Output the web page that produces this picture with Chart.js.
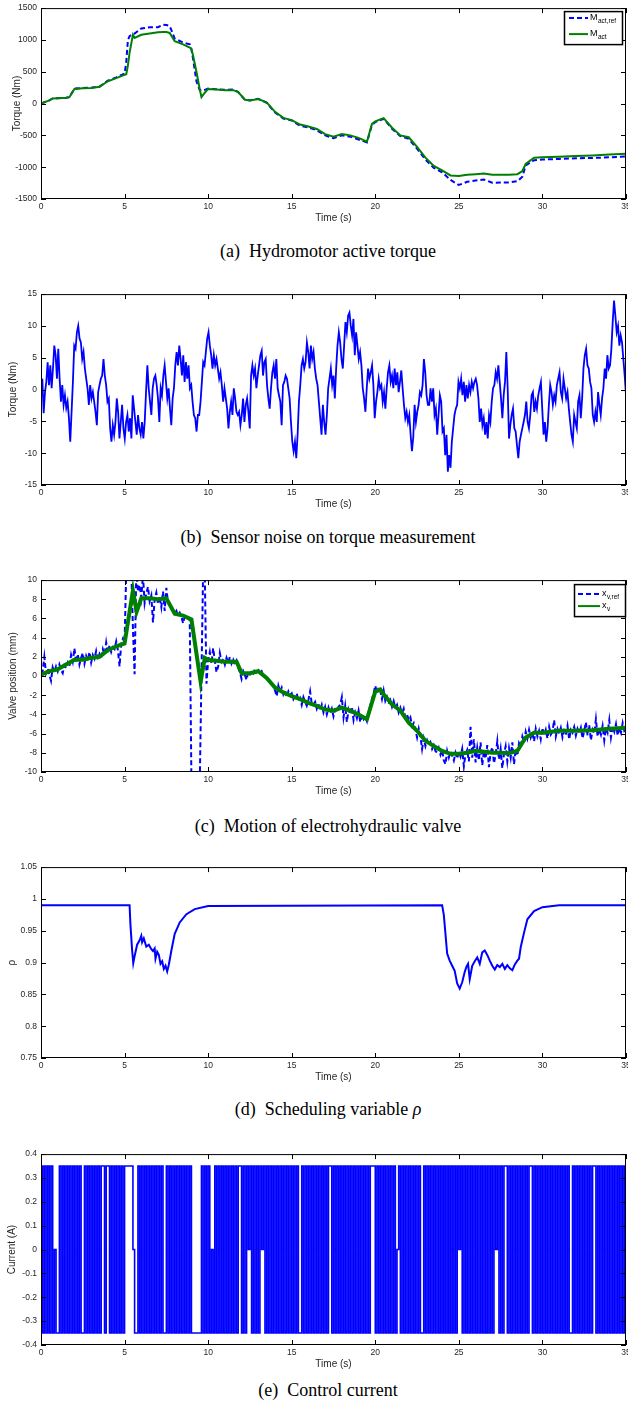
<!DOCTYPE html>
<html>
<head>
<meta charset="utf-8">
<script src="https://cdn.jsdelivr.net/npm/chart.js@4.4.1/dist/chart.umd.min.js"></script>
<style>
  html, body { margin: 0; padding: 0; background: #fff; }
  body { width: 628px; height: 1409px; position: relative; overflow: hidden; }
  canvas.panel { position: absolute; left: 0; }
  .caption {
    position: absolute; left: 0; width: 656px; text-align: center;
    font-family: "Liberation Serif", "Times New Roman", serif;
    font-size: 18px; line-height: 20px; color: #000; white-space: pre;
  }
</style>
</head>
<body>
<canvas class="panel" id="chartA" width="660" height="225" style="top:-1px"></canvas>
<div class="caption" style="top:241px">(a)  Hydromotor active torque</div>
<canvas class="panel" id="chartB" width="660" height="225" style="top:285px"></canvas>
<div class="caption" style="top:527px">(b)  Sensor noise on torque measurement</div>
<canvas class="panel" id="chartC" width="660" height="226" style="top:571px"></canvas>
<div class="caption" style="top:816px">(c)  Motion of electrohydraulic valve</div>
<canvas class="panel" id="chartD" width="660" height="225" style="top:858px"></canvas>
<div class="caption" style="top:1099px">(d)  Scheduling variable <i>ρ</i></div>
<canvas class="panel" id="chartE" width="660" height="225" style="top:1145px"></canvas>
<div class="caption" style="top:1380px">(e)  Control current</div>

<script>
// ---- data ----
const timeTicks = [0, 5, 10, 15, 20, 25, 30, 35];

// (a) active torque, Nm
const torqueTicks = [-1500, -1000, -500, 0, 500, 1000, 1500];
const tTorque = [0,0.5,0.7,1,1.5,1.7,2,2.5,3,3.5,
  4,4.5,5,5.1,5.2,5.3,5.5,5.6,6,6.5,
  7,7.3,7.5,7.7,8,8.5,8.9,9,9.1,9.3,
  9.5,9.6,9.8,10,10.5,11,11.5,11.8,12.2,12.5,
  13,13.5,14,14.5,15,15.5,16,16.5,17,17.5,
  18,18.5,19,19.5,19.8,20,20.5,21,21.5,22,
  22.5,23,23.5,24,24.5,25,25.5,26,26.5,27,
  27.5,28,28.5,28.8,29,29.5,30,31,32,33,
  34,35];
const mActRef = [0,50,80,85,90,100,235,245,250,265,
  360,410,470,650,1000,1060,1090,1100,1180,1200,
  1200,1240,1235,1220,1020,960,930,850,700,350,
  210,200,215,235,225,215,220,180,60,50,
  75,10,-140,-235,-265,-350,-375,-420,-500,-545,
  -500,-520,-565,-610,-340,-290,-240,-395,-510,-555,
  -710,-880,-1010,-1080,-1200,-1280,-1230,-1210,-1195,-1245,
  -1240,-1240,-1220,-1150,-970,-890,-880,-870,-860,-855,
  -845,-830];
const mAct = [0,50,80,85,90,100,230,240,245,265,
  350,400,450,460,600,800,1080,1030,1080,1100,
  1120,1125,1125,1110,980,930,880,860,750,500,
  220,100,170,230,220,210,210,180,60,50,
  70,20,-130,-225,-260,-330,-360,-400,-480,-520,
  -480,-500,-540,-600,-320,-280,-230,-380,-500,-530,
  -680,-850,-980,-1050,-1130,-1140,-1120,-1110,-1100,-1120,
  -1120,-1120,-1110,-1060,-950,-850,-845,-835,-825,-815,
  -800,-790];

// (b) sensor noise, Nm, evenly sampled over 0..35 s
const noiseTicks = [-15, -10, -5, 0, 5, 10, 15];
const sensorNoise = [
  0,1.7,-3.7,-0.4,1.2,4.3,0.7,3.8,0.2,3.3,
  6.9,5.4,1.7,6.4,1.7,-1.9,0.7,-2.4,-0.9,-2.9,
  -1.9,-4.5,-8.2,-3.5,1.2,6.9,6.4,9,10,8,
  7.4,4.8,5.9,3.3,1.7,0.2,-2.4,0.7,-1.4,-0.4,
  -1.9,-3.5,-5.6,-0.4,0.7,1.7,2.2,4.8,2.2,0.7,
  -1.9,-1.4,-6.1,-8.2,-5.6,-7.1,-5.1,-1.4,-3.5,-7.7,
  -5.1,-2.4,-6.1,-7.7,-5.1,-4,-6.6,-4.5,-7.7,-0.9,
  -3,-5.1,-7.1,-4,-6.1,-7.1,-5.1,-7.7,-5.1,-0.4,
  3.8,0.2,-1.9,-4,0.2,1.7,2.2,0.7,-1.4,-5.1,
  0.2,-0.9,2.2,3.8,1.2,-1.4,0.2,-3,-5.6,-1.4,
  0.2,3.8,5.9,3.8,6.9,4.8,2.2,5.4,1.2,4.3,
  1.7,3.8,0.2,0.7,-1.9,-4,-4.5,-6.6,-4,-4,
  -1.9,1.2,4.3,3.8,5.9,8,9,6.9,5.4,3.3,
  5.4,3.8,4.8,3.3,1.7,2.7,0.7,-1.9,0.2,-1.4,
  -3,-6.1,-3.5,-1.9,-4,0.2,-1.4,-3.5,
  -4,-3.5,-5.6,-4,-1.4,-5.1,-2.4,-1.4,-3.5,-6.1,
  2.2,3.8,2.2,3.3,0.2,2.2,3.8,5.4,6.1,2.2,
  4.3,4.8,0.7,-1.4,-3,0.2,2.7,3.8,1.7,4.8,
  0.2,-0.9,-1.9,-5.6,0.7,1.2,2.2,1.7,0.2,-1.4,
  -5.1,-8.2,-9.7,-8.2,-10.8,-7.1,-1.9,0.7,3.8,4.8,
  3.3,4.3,7.4,5.9,3.3,6.9,4.8,5.9,3.3,1.7,
  0.7,-1.9,-4.5,-7.1,-2.4,-5.1,-7.1,-4,0.2,1.7,
  3.3,0.7,2.2,-1.4,3.3,6.9,9,7.4,4.8,3.3,
  6.9,10.6,9,11.6,12.1,10,8.5,11.1,5.4,9,
  6.9,4.8,5.9,3.8,0.2,-1.4,-3.5,0.2,3.3,1.7,
  2.7,3.8,0.7,-4.5,-1.9,-0.4,1.7,0.2,0.7,-1.9,
  -0.4,-3,0.2,2.7,3.8,1.2,2.2,0.2,3.3,0.7,
  2.7,-0.4,1.2,3,0.2,-2.4,-4.5,-3.5,-5.1,-4,
  -7.1,-9.7,-7.5,-2.4,-5.1,-3.5,-2.4,-0.4,-0.9,0.7,
  4.8,2.7,-0.9,-2.4,
  -2.4,0.2,-1.9,0.2,-4,-3,-7.1,-4,-0.9,-1.9,
  -6.6,-6.1,-10.3,-7.1,-12.9,-10.3,-12.3,-8.2,-6.1,-4,
  -3,-2.4,1.2,0.2,1.7,-0.9,1.2,-1.9,0.7,-1.4,
  0.7,-0.4,1.2,0.2,1.2,1.7,0.7,-1.4,-5.1,-3,
  -5.6,-4.5,-7.1,-5.1,-7.7,-4,-5.1,-1.9,0.2,0.7,
  2.7,1.7,3.8,1.2,-1.4,-4.5,-0.9,1.2,5.9,0.2,
  -7.7,-5.6,-4,-3,-6.1,-6.6,-8.75,-10.8,-8.2,-7.1,
  -6.1,-5.1,-4,-1.9,-5.1,-6.1,-4,-0.9,-0.4,-3.5,
  -1.9,-3,-0.9,0.2,1.2,-3,-7.1,-5.1,-8.2,-6.1,
  -2.4,0.7,-0.4,-2.4,-0.9,-1.9,0.7,1.7,2.7,-0.4,
  -1.4,1.7,0.2,-1.4,-0.4,-3,-5.1,-7.1,-8.2,-4,
  -5.1,-6.1,-1.9,-0.9,-4.5,-1.4,3.3,5.4,6.4,3.8,
  3.3,1.2,0.2,-4,-5.1,-3.5,-5.1,-0.4,-2.4,-4,
  -1.4,0.2,3.3,1.7,5.4,3.3,3.8,6.4,10.6,14,
  11.6,9,10,6.9,8.5,7.4,4.8,2.2,-0.9];

// (c) valve position, mm
const valveTicks = [-10, -8, -6, -4, -2, 0, 2, 4, 6, 8, 10];
// reference: one row per second, 0.1 s apart
const xvRefRows = [
  [0.2,0.5,2.0,0.3,0.8,0.1,-0.5,0.9,0.4,1.0],
  [0.5,1.2,0.6,0.3,1.1,0.8,1.4,1.0,2.2,1.5],
  [2.9,1.4,2.3,1.2,1.9,2.4,1.3,2.1,1.6,2.5],
  [1.4,2.2,1.8,2.6,1.7,2.3,1.9,2.8,2.2,3.5],
  [2.4,3.2,2.5,3.0,2.8,3.6,2.7,1.0,3.4,3.9],
  [3.5,11,11,11,11,5,0.2,11,8.8,9.5],
  [8.2,10.5,7.6,8.6,9.3,7.8,8.4,5.6,8.0,8.7],
  [7.5,8.3,7.2,8.8,6.8,9.2,7.6,7.4,7.0,6.8],
  [6.5,6.8,6.3,6.6,6.2,5.5,6.2,6.0,6.1,5.8],
  [-11,-11,-11,-11,-11,-11,0,11,10.5,-0.8],
  [1.6,2.5,1.3,2.9,1.6,0.4,1.0,2.4,1.5,1.8],
  [1.2,1.9,1.4,2.0,1.3,1.7,1.2,1.6,0.9,0.4],
  [-0.3,0.5,0.1,-0.4,0.5,0.2,0.6,0.3,0.7,0.4],
  [0.6,0.3,0.5,0.0,-0.1,-0.3,-0.5,-0.6,-0.8,-1.0],
  [-1.5,-2.1,-1.0,-1.6,-1.2,-1.9,-1.5,-2.2,-1.6,-2.0],
  [-1.8,-2.4,-2.0,-1.8,-2.6,-2.3,-3.0,-2.2,-2.7,-3.1],
  [-2.5,-1.6,-2.9,-3.0,-2.7,-3.4,-2.9,-3.6,-3.0,-3.8],
  [-3.2,-4.0,-3.3,-3.9,-3.4,-4.2,-3.5,-3.7,-3.2,-3.0],
  [-2.2,-4.3,-3.1,-4.8,-3.5,-4.0,-3.2,-4.6,-3.8,-4.4],
  [-3.6,-4.8,-4.0,-4.5,-4.2,-4.7,-3.8,-3.0,-2.4,-1.8],
  [-1.0,-1.8,-1.2,-1.6,-2.4,-1.5,-2.6,-2.2,-2.9,-2.5],
  [-3.2,-2.6,-3.3,-3.0,-3.8,-3.3,-3.9,-3.4,-4.3,-4.0],
  [-4.6,-4.3,-5.2,-4.9,-5.6,-6.4,-5.5,-6.3,-7.6,-6.5],
  [-7.3,-6.7,-7.2,-6.9,-7.6,-7.2,-7.8,-8.0,-7.5,-8.2],
  [-7.7,-8.8,-9.2,-7.8,-8.5,-7.9,-8.3,-8.8,-8.0,-8.6],
  [-7.9,-8.4,-7.6,-9.4,-8.1,-7.7,-8.9,-5.3,-8.5,-6.6],
  [-9.0,-7.5,-8.8,-6.9,-9.3,-7.8,-8.6,-7.2,-9.5,-8.0],
  [-7.4,-9.1,-8.2,-6.8,-8.7,-7.6,-9.6,-8.1,-7.3,-8.9],
  [-7.5,-8.5,-6.9,-9.2,-7.6,-8.3,-7.0,-7.4,-6.3,-6.9],
  [-5.8,-6.5,-5.6,-6.4,-5.9,-6.8,-5.5,-6.3,-5.7,-6.6],
  [-5.4,-6.2,-5.6,-6.5,-5.3,-6.1,-5.8,-4.6,-6.3,-5.5],
  [-6.0,-5.4,-6.4,-5.7,-6.1,-5.2,-6.6,-5.6,-5.9,-5.3],
  [-6.2,-5.5,-6.0,-5.4,-6.5,-5.7,-4.8,-6.2,-5.1,-6.7],
  [-5.6,-6.0,-4.5,-6.3,-5.5,-6.1,-5.2,-6.7,-5.4,-5.9],
  [-4.6,-6.4,-5.3,-5.8,-5.0,-6.2,-5.4,-5.9,-4.9,-5.7],
  [-5.5]
];
const tValve = [0,0.5,1,1.5,2,2.5,3,3.5,4,4.5,
  5,5.5,5.72,6,6.5,7,7.5,8,8.5,9,
  9.55,9.8,10,11,11.7,12,12.5,13,13.5,14,
  14.5,15,15.5,16,16.5,17,17.5,18,18.5,19,
  19.5,20,20.3,20.5,21,21.5,22,22.5,23,23.5,
  24,24.5,25,25.5,26,26.5,27,27.5,28,28.5,
  29,29.5,30,31,32,33,34,35];
const xv = [0.15,0.5,0.7,1.2,1.7,1.7,1.9,2.0,2.7,3.1,
  3.4,8.9,6.7,8.1,8.1,8.0,8.1,6.5,6.3,5.9,
  -0.6,1.9,1.7,1.5,1.5,0.3,0.3,0.5,-0.2,-1.2,
  -1.7,-2.1,-2.4,-2.8,-3.1,-3.5,-3.6,-3.3,-3.6,-4.0,
  -4.5,-1.6,-1.4,-1.9,-2.95,-3.6,-4.85,-5.7,-6.75,-7.3,
  -7.8,-8.1,-8.1,-8.0,-7.8,-7.9,-8.0,-8.0,-8.05,-7.8,
  -6.4,-5.9,-5.9,-5.7,-5.7,-5.65,-5.5,-5.4];

// (d) scheduling variable rho
const rhoTicks = [0.75, 0.8, 0.85, 0.9, 0.95, 1, 1.05];
const tRho = [0,5.3,5.35,5.45,5.52,5.6,5.75,5.9,6.0,6.05,
  6.15,6.3,6.45,6.6,6.7,6.8,6.85,6.95,7.05,7.15,
  7.25,7.35,7.45,7.55,7.65,7.8,8.0,8.3,8.7,9.2,
  10,24.0,24.1,24.3,24.45,24.6,24.75,24.9,25.05,25.2,
  25.35,25.45,25.55,25.65,25.8,25.95,26.1,26.25,26.4,26.55,
  26.7,26.85,27.0,27.15,27.3,27.45,27.6,27.75,27.9,28.05,
  28.2,28.35,28.5,28.6,28.7,28.9,29.1,29.5,30.0,31,
  35];
const rho = [0.99,0.99,0.96,0.92,0.899,0.91,0.928,0.935,0.942,0.932,
  0.938,0.925,0.928,0.921,0.918,0.922,0.906,0.917,0.912,0.898,
  0.902,0.89,0.895,0.886,0.897,0.919,0.945,0.963,0.976,0.984,
  0.989,0.99,0.975,0.914,0.903,0.895,0.887,0.867,0.859,0.869,
  0.885,0.893,0.898,0.874,0.895,0.902,0.908,0.898,0.916,0.919,
  0.912,0.903,0.895,0.889,0.896,0.893,0.898,0.890,0.896,0.891,
  0.888,0.897,0.903,0.906,0.924,0.947,0.968,0.981,0.987,0.99,
  0.99];

// (e) control current: + = 0.35 A, - = -0.35 A, 0 = 0 A; one char per 0.1 s
const currentTicks = [-0.4, -0.3, -0.2, -0.1, 0, 0.1, 0.2, 0.3, 0.4];
const currentLevels = { '+': 0.35, '-': -0.35, '0': 0 };
const currentRows = [
  '+-+-+-+-0-', '-+-+-+-+-+', '-+-+--+-+-', '+-+-+-++-+', '+-+-+-+-+-',
  '+++++0--+-', '+-+-+-+-+-', '+-+--+-+-+', '-+-+-+-+-+', '------+-+-',
  '+-0-+-+-+-', '+-+-+-+-++', '-+-+0+-+-+', '-+0+-+-+-+', '-+-+-+-+-+',
  '-+-+--+-+-', '+-+-+-+-+-', '+-++-+-+-+', '-+-+-+-+-+', '-+-+-+-+++',
  '-+-+-+-+-+', '-+-0+-+-+-', '+-+-+-+--+', '-+-+-+-+-+', '-+-+-+-+-+',
  '0+-+-+-+-+', '-+-+-+-+-+', '-+0+-+-++-', '+-+-+-+-+-', '+-++-+-+-+',
  '-+-+-+-+-+', '-+-+-+--+-', '+-+-+-+-+-', '++-+-+-+-+', '-+-+-+-+-+',
  '-'
];

// ---- helpers ----
const SANS = '"Liberation Sans", Arial, Helvetica, sans-serif';
const BLUE = '#0000ff';
const GREEN = '#008000';

function toPoints(xs, ys) {
  return ys.map((y, i) => ({ x: xs[i], y: y }));
}

function evenPoints(ys, tEnd) {
  const step = tEnd / (ys.length - 1);
  return ys.map((y, i) => ({ x: i * step, y: y }));
}

function tenthPoints(ys) {
  return ys.map((y, i) => ({ x: i / 10, y: y }));
}

function fmtTick(v) {
  return String(Math.round(v * 100) / 100);
}

// MATLAB-like frame with inward ticks
const matlabBox = {
  id: 'matlabBox',
  afterDatasetsDraw(chart) {
    const { ctx, chartArea: a, scales } = chart;
    const tl = 5;
    ctx.save();
    ctx.strokeStyle = '#000';
    ctx.lineWidth = 1;
    ctx.beginPath();
    scales.x.ticks.forEach(t => {
      const px = Math.round(scales.x.getPixelForValue(t.value)) + 0.5;
      ctx.moveTo(px, a.bottom); ctx.lineTo(px, a.bottom - tl);
      ctx.moveTo(px, a.top); ctx.lineTo(px, a.top + tl);
    });
    scales.y.ticks.forEach(t => {
      const py = Math.round(scales.y.getPixelForValue(t.value)) + 0.5;
      ctx.moveTo(a.left, py); ctx.lineTo(a.left + tl, py);
      ctx.moveTo(a.right, py); ctx.lineTo(a.right - tl, py);
    });
    ctx.stroke();
    ctx.strokeRect(a.left + 0.5, a.top + 0.5, a.right - a.left - 1, a.bottom - a.top - 1);
    ctx.restore();
  }
};

// legend box with subscripts
const boxLegend = {
  id: 'boxLegend',
  afterDraw(chart, args, opts) {
    if (!opts || !opts.rows || !opts.rows.length) return;
    const { ctx, chartArea: a } = chart;
    const left = a.right - opts.right - opts.width;
    const top = a.top + opts.top;
    ctx.save();
    ctx.fillStyle = '#fff';
    ctx.fillRect(left, top, opts.width, opts.height);
    ctx.strokeStyle = '#000';
    ctx.lineWidth = 1.5;
    ctx.strokeRect(left + 0.5, top + 0.5, opts.width, opts.height);
    opts.rows.forEach(row => {
      const ds = chart.data.datasets[row.dataset];
      const y = top + row.y;
      ctx.beginPath();
      ctx.setLineDash(ds.borderDash || []);
      ctx.strokeStyle = ds.borderColor;
      ctx.lineWidth = 2;
      ctx.moveTo(left + opts.lineFrom, y);
      ctx.lineTo(left + opts.lineTo, y);
      ctx.stroke();
      ctx.setLineDash([]);
      ctx.fillStyle = '#000';
      ctx.textBaseline = 'alphabetic';
      ctx.textAlign = 'left';
      ctx.font = '9px ' + SANS;
      ctx.fillText(row.main, left + opts.textX, y + 2);
      const mw = ctx.measureText(row.main).width;
      ctx.font = '6.5px ' + SANS;
      ctx.fillText(row.sub, left + opts.textX + mw + 0.5, y + 5);
    });
    ctx.restore();
  }
};

function makePanel(id, datasets, yMin, yMax, yTicks, yTitle, yTitlePad, legend) {
  const canvas = document.getElementById(id);
  return new Chart(canvas.getContext('2d'), {
    type: 'line',
    data: { datasets: datasets },
    plugins: [matlabBox, boxLegend],
    options: {
      responsive: false,
      animation: false,
      events: [],
      layout: { padding: { top: 8, right: 34, left: 0, bottom: 0 } },
      elements: { point: { radius: 0 }, line: { tension: 0 } },
      plugins: {
        legend: { display: false },
        tooltip: { enabled: false },
        boxLegend: legend || {}
      },
      scales: {
        x: {
          type: 'linear', min: 0, max: 35,
          grid: { display: false, drawTicks: false },
          border: { display: false },
          afterBuildTicks: s => { s.ticks = timeTicks.map(v => ({ value: v })); },
          afterFit: s => { s.height = 25; },
          ticks: { padding: 3, color: '#262626', font: { family: SANS, size: 8.5 }, maxRotation: 0, autoSkip: false, callback: fmtTick },
          title: { display: true, text: 'Time (s)', color: '#262626', font: { family: SANS, size: 10 }, padding: 0 }
        },
        y: {
          type: 'linear', min: yMin, max: yMax,
          grid: { display: false, drawTicks: false },
          border: { display: false },
          afterBuildTicks: s => { s.ticks = yTicks.map(v => ({ value: v })); },
          afterFit: s => { s.width = 41; },
          ticks: { padding: 4, color: '#262626', font: { family: SANS, size: 8.5 }, autoSkip: false, callback: fmtTick },
          title: { display: true, text: yTitle, color: '#262626', font: { family: SANS, size: 10 }, padding: { top: yTitlePad, bottom: 0 } }
        }
      }
    }
  });
}

// (a)
makePanel('chartA', [
  { data: toPoints(tTorque, mActRef), borderColor: BLUE, borderWidth: 2, borderDash: [5, 3], order: 2, clip: 0 },
  { data: toPoints(tTorque, mAct), borderColor: GREEN, borderWidth: 2, order: 1, clip: 0 }
], -1500, 1500, torqueTicks, 'Torque (Nm)', 11, {
  right: 4, top: 3, width: 58, height: 33, lineFrom: 5, lineTo: 24, textX: 26,
  rows: [{ dataset: 0, main: 'M', sub: 'act,ref', y: 7 }, { dataset: 1, main: 'M', sub: 'act', y: 23 }]
});

// (b)
makePanel('chartB', [
  { data: evenPoints(sensorNoise, 35), borderColor: BLUE, borderWidth: 1.8, clip: 0 }
], -15, 15, noiseTicks, 'Torque (Nm)', 7);

// (c)
makePanel('chartC', [
  { data: tenthPoints(xvRefRows.flat()), borderColor: BLUE, borderWidth: 2, borderDash: [5, 3], order: 2, clip: 0 },
  { data: toPoints(tValve, xv), borderColor: GREEN, borderWidth: 4, order: 1, clip: 0 }
], -10, 10, valveTicks, 'Valve position (mm)', 7, {
  right: 1, top: 4, width: 51, height: 32, lineFrom: 4, lineTo: 26, textX: 28,
  rows: [{ dataset: 0, main: 'x', sub: 'v,ref', y: 10 }, { dataset: 1, main: 'x', sub: 'v', y: 22 }]
});

// (d)
makePanel('chartD', [
  { data: toPoints(tRho, rho), borderColor: BLUE, borderWidth: 2, clip: 0 }
], 0.75, 1.05, rhoTicks, 'ρ', 6);

// (e)
const currentValues = currentRows.join('').split('').map(c => currentLevels[c]);
makePanel('chartE', [
  { data: tenthPoints(currentValues), borderColor: BLUE, borderWidth: 1.6, stepped: true, clip: 0 }
], -0.4, 0.4, currentTicks, 'Current (A)', 6);
</script>
</body>
</html>
